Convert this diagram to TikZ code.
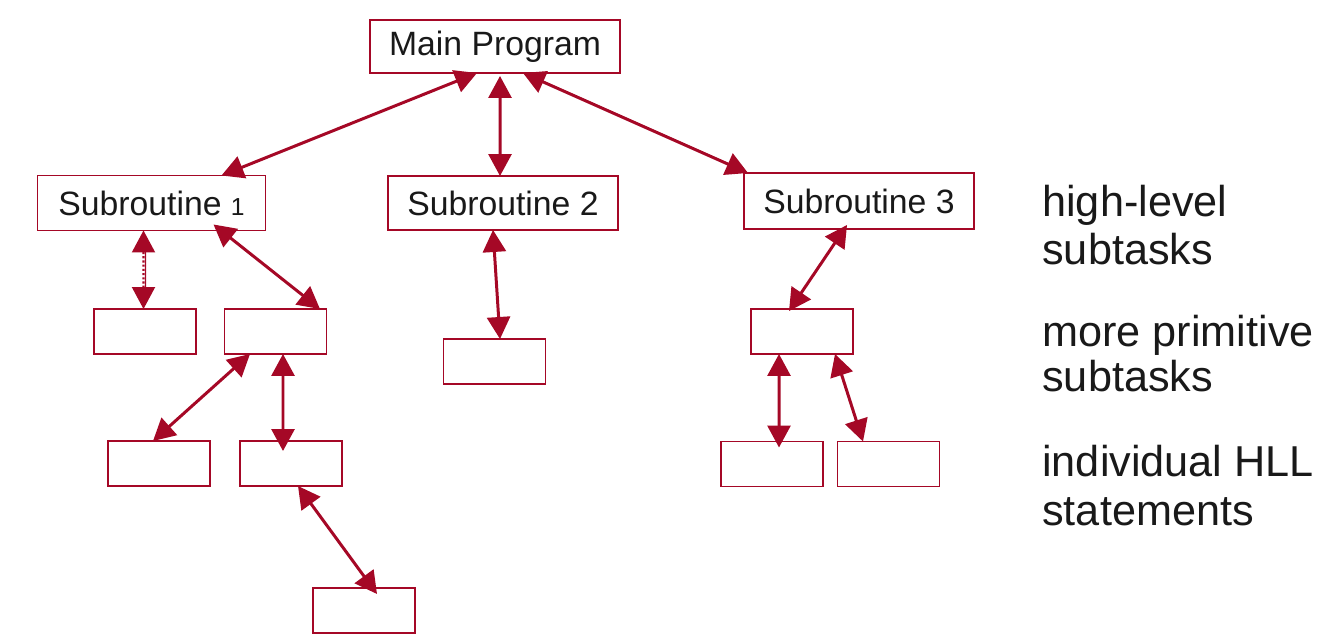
\documentclass[tikz,border=0pt]{standalone}
\usepackage{fontspec}
\setmainfont{Liberation Sans}
\usetikzlibrary{arrows.meta}
\definecolor{dred}{RGB}{165,8,38}
\definecolor{txt}{RGB}{25,25,25}
\tikzset{
  box/.style={draw=dred, line width=1.1pt, fill=white, inner sep=0pt, outer sep=0pt,
    text=txt, font=\fontsize{19.2}{22}\selectfont},
  small/.style={box, minimum width=2.04cm, minimum height=0.9cm},
  conn/.style={draw=dred, line width=1.7pt,
    {Triangle[length=0.44cm,width=0.46cm]}-{Triangle[length=0.44cm,width=0.46cm]}},
  lbl/.style={anchor=base west, inner sep=0pt, text=txt, font=\fontsize{24.6}{28}\selectfont}
}
\begin{document}
\begin{tikzpicture}[x=0.02cm, y=-0.02cm]
\useasboundingbox (0,0) rectangle (1334,644);
% top level
\node[box, minimum width=5.0cm, minimum height=1.06cm] (main) at (495,46.5) {Main Program};
\node[box, minimum width=4.56cm, minimum height=1.1cm] (s1) at (151.5,203) {Subroutine {\fontsize{14}{15}\selectfont 1}};
\node[box, minimum width=4.6cm, minimum height=1.08cm] (s2) at (503,203) {Subroutine 2};
\node[box, minimum width=4.6cm, minimum height=1.12cm] (s3) at (859,201) {Subroutine 3};
% small boxes
\node[small] (a) at (145,331.5) {};
\node[small] (b) at (275.5,331.5) {};
\node[small] (c) at (494.5,361.5) {};
\node[small] (d) at (802,331.5) {};
\node[small] (e) at (772,464) {};
\node[small] (f) at (888.5,464) {};
\node[small] (g) at (159,463.5) {};
\node[small] (h) at (291,463.5) {};
\node[small] (i) at (364,610.5) {};
% connectors
\draw[conn] ([xshift=-0.36cm]main.south) -- ([xshift=1.40cm]s1.north);
\draw[conn] ([xshift=0.10cm,yshift=-0.06cm]main.south) -- ([xshift=-0.06cm]s2.north);
\draw[conn] ([xshift=0.56cm]main.south) -- ([xshift=-2.22cm]s3.north);
\draw[draw=dred, line width=0.6pt, shorten >=0.3cm, shorten <=0.3cm] ([xshift=-0.12cm]s1.south) -- ([xshift=0.01cm]a.north);
\draw[conn, line width=1.2pt, dash pattern=on 1.2pt off 1.2pt] ([xshift=-0.16cm]s1.south) -- ([xshift=-0.03cm]a.north);
\draw[conn] ([xshift=1.24cm,yshift=0.12cm]s1.south) -- ([xshift=0.89cm]b.north);
\draw[conn] ([xshift=-0.51cm]b.south) -- ([xshift=-0.12cm]g.north);
\draw[conn] ([xshift=0.15cm]b.south) -- ([xshift=-0.16cm,yshift=-0.2cm]h.north);
\draw[conn] ([xshift=0.14cm]h.south) -- ([xshift=0.26cm,yshift=-0.12cm]i.north);
\draw[conn] ([xshift=-0.2cm]s2.south) -- ([xshift=0.11cm]c.north);
\draw[conn] ([xshift=-0.24cm,yshift=0.08cm]s3.south) -- ([xshift=-0.26cm,yshift=-0.04cm]d.north);
\draw[conn] ([xshift=-0.46cm]d.south) -- ([xshift=0.14cm,yshift=-0.12cm]e.north);
\draw[conn] ([xshift=0.66cm]d.south) -- ([xshift=-0.51cm]f.north);
% level labels
\node[lbl] (l1a) at (1042,217) {high-level};
\node[lbl] (l1b) at (1042,265) {subtasks};
\node[lbl] (l2a) at (1042,347) {more primitive};
\node[lbl] (l2b) at (1042,392) {subtasks};
\node[lbl] (l3a) at (1042,477) {individual HLL};
\node[lbl] (l3b) at (1042,525) {statements};
\end{tikzpicture}
\end{document}
